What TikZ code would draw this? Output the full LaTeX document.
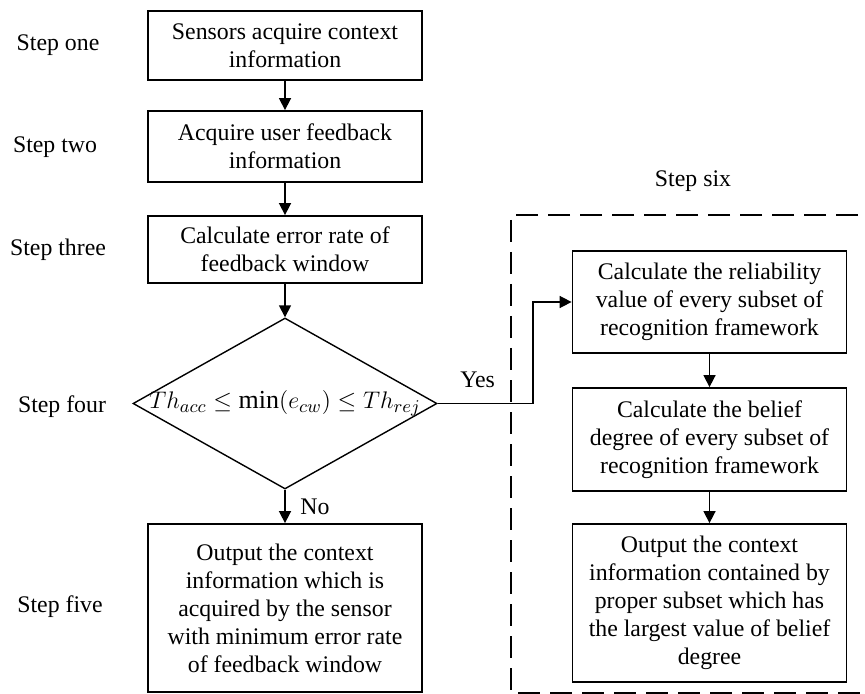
\documentclass[tikz,border=0pt]{standalone}
\usepackage{fontspec}
\setmainfont{Liberation Serif}
\usetikzlibrary{arrows.meta,shapes.geometric}

\begin{document}
\begin{tikzpicture}[x=0.5pt, y=-0.5pt,
  font=\fontsize{11.9}{14}\selectfont,
  box/.style={draw, line width=0.9pt, minimum width=137pt, align=center, inner sep=0pt},
  decision/.style={draw, diamond, line width=0.7pt, minimum width=152pt, minimum height=85.5pt, inner sep=0pt},
  line/.style={draw, line width=0.8pt, -{Triangle[length=6pt,width=6pt]}},
  frame/.style={draw, line width=1.4pt, dash pattern=on 11pt off 5pt}
]
\useasboundingbox (0,0) rectangle (865,694);

\node (s1) at (58,45) {Step one};
\node (s2) at (55,147) {Step two};
\node (s3) at (58,250) {Step three};
\node (s4) at (62,407) {Step four};
\node (s5) at (60,607) {Step five};
\node (s6) at (693,181) {Step six};

\node[box, minimum height=34.5pt] (acq) at (285,45.5) {Sensors acquire context\\information};
\node[box, minimum height=35.5pt] (fb) at (285,146.5) {Acquire user feedback\\information};
\node[box, minimum height=33.5pt] (err) at (285,249.5) {Calculate error rate of\\feedback window};
\node[decision] (dec) at (285,403.5) {};
\node[font=\fontsize{13}{15}\selectfont] (cond) at (dec.center) {$Th_{acc} \le \min(e_{cw}) \le Th_{rej}$};
\node[box, minimum height=84pt] (out) at (285,608) {Output the context\\information which is\\acquired by the sensor\\with minimum error rate\\of feedback window};

\draw[frame] (890,215) -- (511,215) -- (511,693) -- (890,693);
\node[box, minimum height=51pt] (rel) at (709.5,302) {Calculate the reliability\\value of every subset of\\recognition framework};
\node[box, minimum height=51.5pt] (bel) at (709.5,439.5) {Calculate the belief\\degree of every subset of\\recognition framework};
\node[box, minimum height=79pt] (res) at (709.5,603) {Output the context\\information contained by\\proper subset which has\\the largest value of belief\\degree};

\draw[line] (acq) -- (fb);
\draw[line] (fb) -- (err);
\draw[line] (err) -- (dec);
\draw[line] (dec) -- node[right=4pt] {No} (out);
\draw[line] (dec.east) -- node[above=4pt, pos=0.42] {Yes} ++(95,0) |- (rel.west);
\draw[line] (rel) -- (bel);
\draw[line] (bel) -- (res);
\end{tikzpicture}
\end{document}
